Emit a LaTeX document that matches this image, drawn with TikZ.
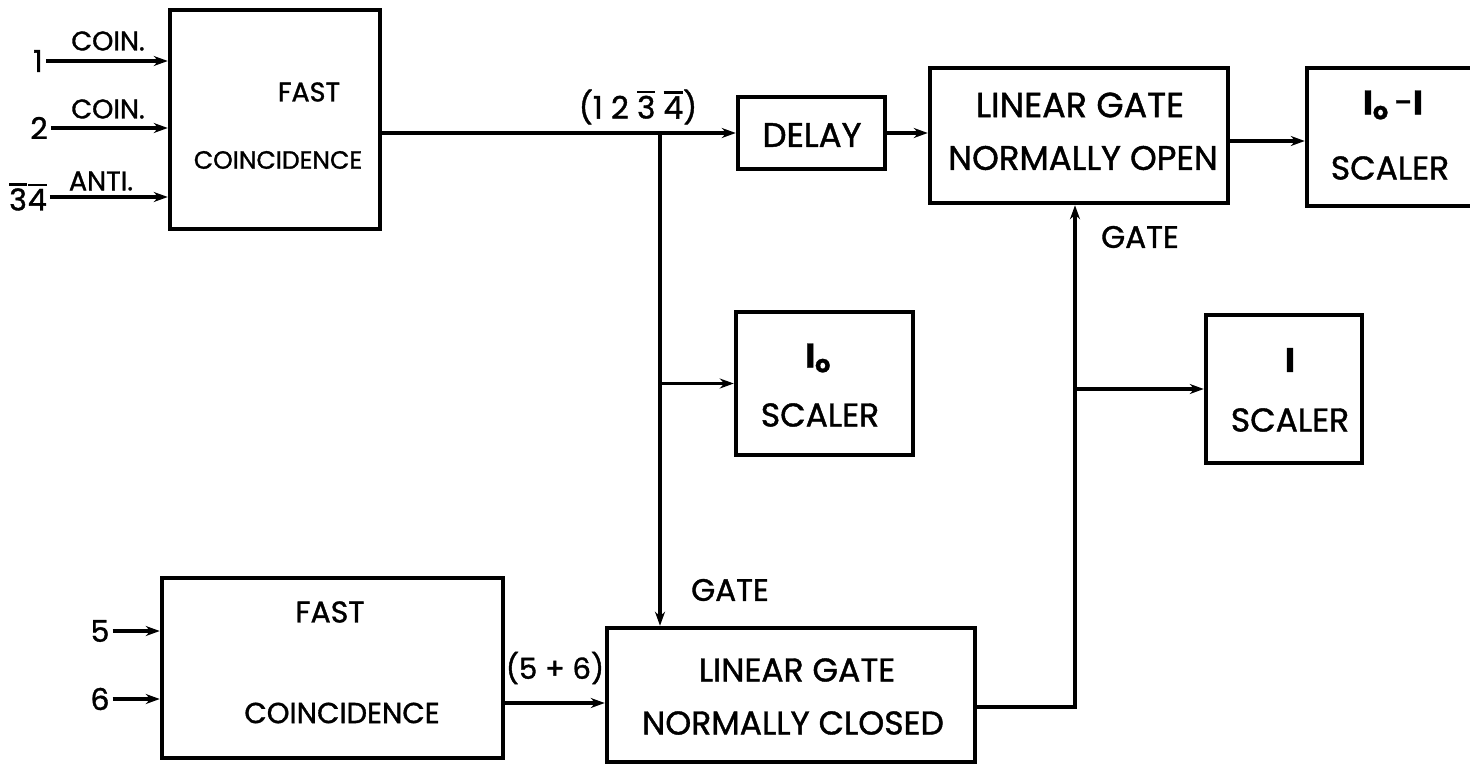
\documentclass[tikz,border=0pt]{standalone}
\usepackage{fontspec}
\setmainfont{Poppins}[FakeBold=1.2]
\usetikzlibrary{arrows.meta}
\newcommand\ovr[1]{\vbox{\hrule height 2.4pt\kern 2.5pt\hbox{#1}}}
\newcommand\fsz[1]{\fontsize{#1}{#1}\selectfont}
\begin{document}
\begin{tikzpicture}[x=1pt,y=-1pt,
  blk/.style={draw,line width=4.5pt,inner sep=0pt,rectangle},
  txt/.style={inner sep=0pt,font=\fsz{33}},
  sml/.style={inner sep=0pt,font=\fsz{27}},
  lab/.style={inner sep=3pt,font=\fsz{30}},
  arr/.style={line width=3.2pt,-{Stealth[length=14pt,width=10pt]}}]
\clip (0,0) rectangle (1470,765);
\fill[white] (0,0) rectangle (1470,765);
% boxes
\node[blk,minimum width=210pt,minimum height=219pt] (fc1) at (275,119.5) {};
\node[blk,minimum width=147pt,minimum height=72pt] (delay) at (811.5,133) {};
\node[blk,minimum width=298pt,minimum height=135pt] (lgo) at (1079,135.5) {};
\node[blk,minimum width=183pt,minimum height=138pt] (sc1) at (1398.5,137) {};
\node[blk,minimum width=177pt,minimum height=143pt] (sc0) at (824.5,383.5) {};
\node[blk,minimum width=156pt,minimum height=148pt] (sci) at (1284,389) {};
\node[blk,minimum width=341pt,minimum height=180pt] (fc2) at (332.5,668) {};
\node[blk,minimum width=368pt,minimum height=134pt] (lgc) at (791,695) {};
% box texts
\node[txt,font=\fsz{27}] (t1) at (309,92) {FAST};
\node[txt,font=\fsz{25}] (t2) at (278,160) {COINCIDENCE};
\node[txt,font=\fsz{30}] (t3) at (330,612) {FAST};
\node[txt,font=\fsz{29}] (t4) at (342,713) {COINCIDENCE};
\node[txt,font=\fsz{34}] (t5) at (812,135) {DELAY};
\node[txt,font=\fsz{35}] (t6) at (1080,105) {LINEAR GATE};
\node[txt,font=\fsz{34}] (t7) at (1083,158) {NORMALLY OPEN};
\node[txt,font=\fsz{33}] (t8) at (797,670) {LINEAR GATE};
\node[txt,font=\fsz{33}] (t9) at (793,723) {NORMALLY CLOSED};
\node[txt,font=\fsz{34}] (t10) at (1393,105) {$\mathbf{I}_{\mathbf{o}}$\,-$\mathbf{I}$};
\node[txt] (t11) at (1390,168) {SCALER};
\node[txt,font=\fsz{34}] (t12) at (818,358) {$\mathbf{I}_{\mathbf{o}}$};
\node[txt] (t13) at (820,415) {SCALER};
\node[txt,font=\fsz{34}] (t14) at (1290,360) {$\mathbf{I}$};
\node[txt] (t15) at (1290,420) {SCALER};
% input labels
\node[lab] (n1) at (38,61) {1};
\node[lab] (n2) at (39,128) {2};
\node[lab] (n34) at (28,197) {\ovr{3}\kern1pt\ovr{4}};
\node[lab] (n5) at (100,631) {5};
\node[lab] (n6) at (100,699) {6};
\node[sml] (c1) at (108,41) {COIN.};
\node[sml] (c2) at (108,109) {COIN.};
\node[sml] (c3) at (101,181) {ANTI.};
\node[lab,font=\fsz{31}] (p1) at (638,107) {(1 2 \ovr{3} \ovr{4})};
\node[lab,font=\fsz{29}] (p2) at (555,668) {(5 + 6)};
\node[lab,font=\fsz{31}] (g1) at (730,590) {GATE};
\node[lab,font=\fsz{31}] (g2) at (1140,237) {GATE};
% connectors
\draw[arr] (n1.east) -- (n1.east -| fc1.west);
\draw[arr] (n2.east) -- (n2.east -| fc1.west);
\draw[arr] (n34.east) -- (n34.east -| fc1.west);
\draw[arr] (n5.east) -- (n5.east -| fc2.west);
\draw[arr] (n6.east) -- (n6.east -| fc2.west);
\coordinate (j1) at (660,133);
\draw[arr] (fc1.east |- delay.west) -- (delay.west);
\draw[arr] (j1) -- (j1 |- lgc.north);
\draw[arr] (j1 |- sc0.west) -- (sc0.west);
\draw[arr] (delay.east) -- (delay.east -| lgo.west);
\coordinate (o1) at (1250,141);
\draw[arr] (lgo.east |- o1) -- (sc1.west |- o1);
\coordinate (o2) at (560,703);
\draw[arr] (fc2.east |- o2) -- (lgc.west |- o2);
\coordinate (j2) at (1075,707);
\draw[arr] (lgc.east |- j2) -- (j2) -- (j2 |- lgo.south);
\draw[arr] (j2 |- sci.west) -- (sci.west);
\end{tikzpicture}
\end{document}
